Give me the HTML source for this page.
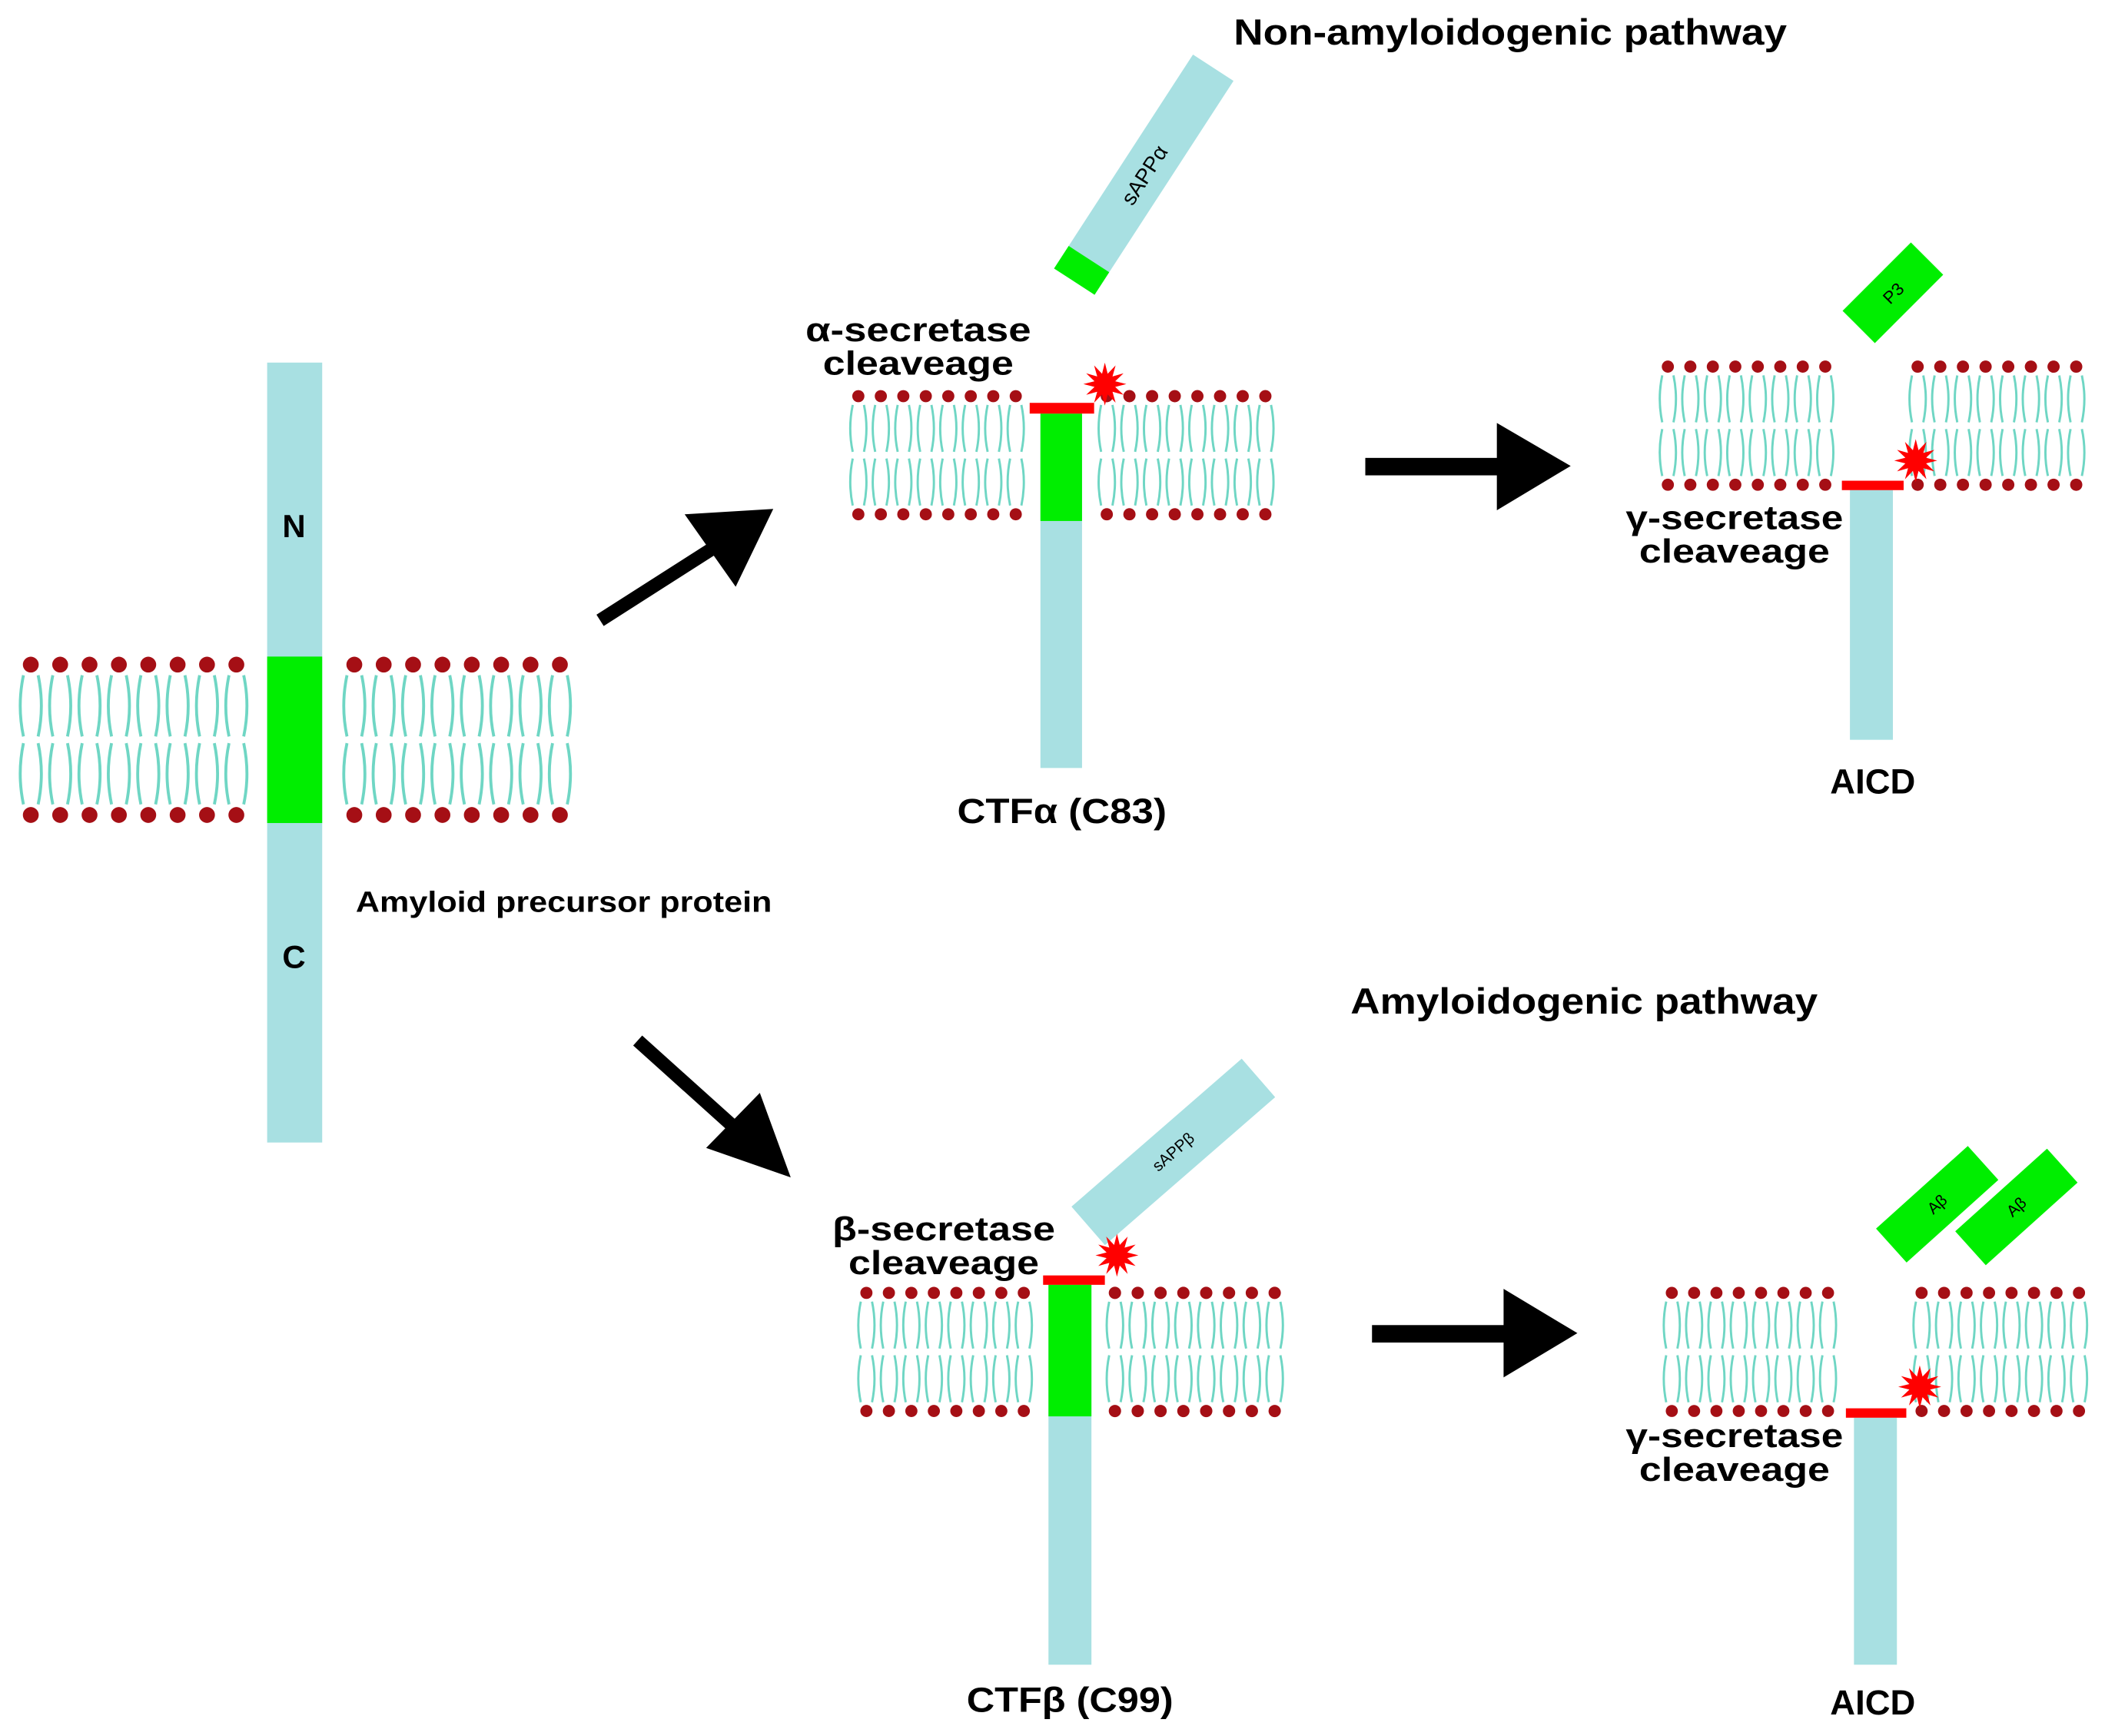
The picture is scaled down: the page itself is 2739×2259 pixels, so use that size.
<!DOCTYPE html>
<html><head><meta charset="utf-8"><style>html,body{margin:0;padding:0;background:#fff}svg{display:block}</style></head>
<body>
<svg id="s" width="2739" height="2259" viewBox="0 0 1568 1293" xmlns="http://www.w3.org/2000/svg" font-family="Liberation Sans, sans-serif" font-weight="bold">
<rect width="1568" height="1293" fill="#fff"/>
<g id="mem"></g>
<!-- APP -->
<rect x="199" y="270" width="41" height="581" fill="#a8e0e2"/>
<rect x="199" y="489" width="41" height="124" fill="#00ee00"/>
<text x="219" y="400" font-size="24" text-anchor="middle">N</text>
<text x="219" y="721" font-size="24" text-anchor="middle">C</text>
<text x="420" y="679" font-size="22" text-anchor="middle" textLength="310" lengthAdjust="spacingAndGlyphs">Amyloid precursor protein</text>
<!-- arrows -->
<g fill="#000">
<line x1="447" y1="462" x2="530" y2="409" stroke="#000" stroke-width="10"/>
<polygon points="576,379 510,383 548,437"/>
<line x1="475" y1="775" x2="545" y2="838" stroke="#000" stroke-width="10"/>
<polygon points="589,877 526,855 566,814"/>
<rect x="1017" y="341" width="100" height="13"/>
<polygon points="1115,315 1170,347 1115,380"/>
<rect x="1022" y="987" width="100" height="13"/>
<polygon points="1120,960 1175,993 1120,1026"/>
</g>
<text x="1125" y="33" font-size="27" text-anchor="middle" textLength="412" lengthAdjust="spacingAndGlyphs">Non-amyloidogenic pathway</text>
<text x="1180" y="755" font-size="27" text-anchor="middle" textLength="348" lengthAdjust="spacingAndGlyphs">Amyloidogenic pathway</text>
<!-- alpha -->
<rect x="775" y="308" width="31" height="264" fill="#a8e0e2"/>
<rect x="775" y="308" width="31" height="80" fill="#00ee00"/>
<rect x="767" y="300" width="48" height="8" fill="#f00"/>
<text x="684" y="254" font-size="25" text-anchor="middle" textLength="168" lengthAdjust="spacingAndGlyphs">α-secretase</text>
<text x="684" y="279" font-size="25" text-anchor="middle" textLength="142" lengthAdjust="spacingAndGlyphs">cleaveage</text>
<text x="791" y="613" font-size="26" text-anchor="middle" textLength="156" lengthAdjust="spacingAndGlyphs">CTFα (C83)</text>
<g transform="translate(852,130) rotate(-57)">
<rect x="-95" y="-18" width="190" height="36" fill="#a8e0e2"/>
<rect x="-95" y="-18" width="20" height="36" fill="#00ee00"/>
<text x="0" y="6" font-size="16" font-weight="normal" text-anchor="middle">sAPPα</text>
</g>
<!-- top right -->
<rect x="1378" y="365" width="32" height="186" fill="#a8e0e2"/>
<rect x="1372" y="358" width="46" height="7" fill="#f00"/>
<g transform="translate(1410,218) rotate(-45)">
<rect x="-36" y="-17" width="72" height="34" fill="#00ee00"/>
<text x="0" y="5" font-size="13" font-weight="normal" text-anchor="middle">P3</text>
</g>
<text x="1292" y="394" font-size="25" text-anchor="middle" textLength="162" lengthAdjust="spacingAndGlyphs">γ-secretase</text>
<text x="1292" y="419" font-size="25" text-anchor="middle" textLength="142" lengthAdjust="spacingAndGlyphs">cleaveage</text>
<text x="1395" y="591" font-size="26" text-anchor="middle">AICD</text>
<!-- beta -->
<rect x="781" y="957" width="32" height="283" fill="#a8e0e2"/>
<rect x="781" y="957" width="32" height="98" fill="#00ee00"/>
<rect x="777" y="950" width="46" height="7" fill="#f00"/>
<g transform="translate(874,858) rotate(-41)">
<rect x="-84" y="-19" width="168" height="38" fill="#a8e0e2"/>
<text x="0" y="4" font-size="12" font-weight="normal" text-anchor="middle">sAPPβ</text>
</g>
<text x="703" y="924" font-size="25" text-anchor="middle" textLength="166" lengthAdjust="spacingAndGlyphs">β-secretase</text>
<text x="703" y="949" font-size="25" text-anchor="middle" textLength="142" lengthAdjust="spacingAndGlyphs">cleaveage</text>
<text x="797" y="1275" font-size="26" text-anchor="middle" textLength="154" lengthAdjust="spacingAndGlyphs">CTFβ (C99)</text>
<!-- bottom right -->
<rect x="1381" y="1056" width="32" height="184" fill="#a8e0e2"/>
<rect x="1375" y="1049" width="45" height="7" fill="#f00"/>
<g transform="translate(1443,897) rotate(-42)">
<rect x="-46" y="-17" width="92" height="34" fill="#00ee00"/>
<text x="0" y="4" font-size="12" font-weight="normal" text-anchor="middle">Aβ</text>
</g>
<g transform="translate(1502,899) rotate(-42)">
<rect x="-46" y="-17" width="92" height="34" fill="#00ee00"/>
<text x="0" y="4" font-size="12" font-weight="normal" text-anchor="middle">Aβ</text>
</g>
<text x="1292" y="1078" font-size="25" text-anchor="middle" textLength="162" lengthAdjust="spacingAndGlyphs">γ-secretase</text>
<text x="1292" y="1103" font-size="25" text-anchor="middle" textLength="142" lengthAdjust="spacingAndGlyphs">cleaveage</text>
<text x="1395" y="1277" font-size="26" text-anchor="middle">AICD</text>
<g id="stars"></g>
</svg>
<script>
var NS="http://www.w3.org/2000/svg";
var g=document.getElementById('mem');
function el(t,a,p){var e=document.createElementNS(NS,t);for(var k in a)e.setAttribute(k,a[k]);(p||g).appendChild(e);return e;}
function mem(x0,x1,yt,yb,n){
  var pitch=(x1-x0)/n, r=pitch*0.27;
  var mid=(yt+yb)/2;
  for(var i=0;i<n;i++){
    var cx=x0+pitch*(i+0.5);
    el('circle',{cx:cx,cy:yt,r:r,fill:'#a50f15'});
    el('circle',{cx:cx,cy:yb,r:r,fill:'#a50f15'});
    var w=pitch*0.25, b=pitch*0.11, sw=pitch*0.1;
    [[yt+r+2,mid-2.5],[mid+2.5,yb-r-2]].forEach(function(s){
      var a=s[0],c=s[1],m=(a+c)/2;
      el('path',{d:'M'+(cx-w)+','+a+' Q'+(cx-w-2*b)+','+m+' '+(cx-w)+','+c,stroke:'#6fd6c4','stroke-width':sw,fill:'none'});
      el('path',{d:'M'+(cx+w)+','+a+' Q'+(cx+w+2*b)+','+m+' '+(cx+w)+','+c,stroke:'#6fd6c4','stroke-width':sw,fill:'none'});
    });
  }
}
mem(12,187,495,607,8); mem(253,428,495,607,8);
mem(631,765,295,383,8); mem(816,951,295,383,8);
mem(1234,1368,273,361,8); mem(1420,1555,273,361,8);
mem(637,771,963,1051,8); mem(822,958,963,1051,8);
mem(1237,1370,963,1051,8); mem(1423,1557,963,1051,8);
var sg=document.getElementById('stars');
function star(cx,cy,R,r){var p=[];for(var i=0;i<24;i++){var a=Math.PI*i/12-Math.PI/2,rr=i%2?r:R;p.push((cx+rr*Math.cos(a)).toFixed(1)+','+(cy+rr*Math.sin(a)).toFixed(1));}el('polygon',{points:p.join(' '),fill:'#f00'},sg);}
star(823,286,16,8); star(1427,343,16,8); star(832,935,16,8); star(1430,1033,16,8);
</script>
</body></html>
